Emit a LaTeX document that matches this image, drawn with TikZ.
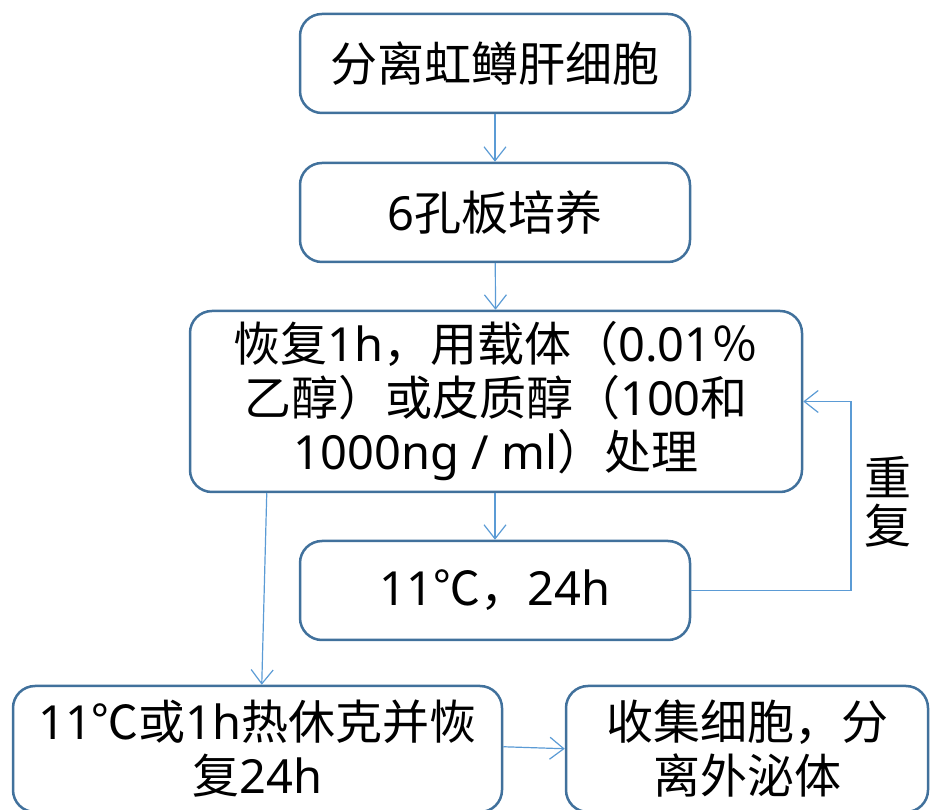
\documentclass[tikz,border=0pt]{standalone}
\usepackage{fontspec}
\setmainfont{Noto Sans}
\newfontfamily\cjk{Noto Sans CJK SC}
\usetikzlibrary{arrows.meta,calc}
\newcommand\zh[1]{{\cjk #1}}
\definecolor{boxc}{HTML}{41719C}
\definecolor{arrc}{HTML}{5B9BD5}
\begin{document}
\begin{tikzpicture}[x=1pt,y=1pt,
  box/.style={draw=boxc, line width=2.5pt, rounded corners=22pt, fill=white,
    align=center, font=\fontsize{47}{54}\selectfont, inner sep=0pt},
  conn/.style={draw=arrc, line width=1.2pt, -{Straight Barb[length=14pt,width=22pt]}},
  lbl/.style={align=center, font=\fontsize{47}{48}\selectfont, inner sep=0pt}]
\useasboundingbox (0,0) rectangle (933,810);
\node[box, minimum width=390, minimum height=99] (b1) at (495,746.5) {\zh{分离虹鳟肝细胞}};
\node[box, minimum width=390, minimum height=99] (b2) at (495,597.5) {6\zh{孔板培养}};
\node[box, minimum width=612, minimum height=181] (b3) at (496,408.5)
  {\zh{恢复}1h\zh{，用载体（}0.01\zh{％}\\
   \zh{乙醇）或皮质醇（}100\zh{和}\\
   1000ng / ml\zh{）处理}};
\node[box, minimum width=390, minimum height=99] (b4) at (495,219.5) {11\zh{℃，}24h};
\node[box, minimum width=489, minimum height=126] (b5) at (257.5,61)
  {11\zh{℃或}1h\zh{热休克并恢}\\ \zh{复}24h};
\node[box, minimum width=362, minimum height=126] (b6) at (747,61)
  {\zh{收集细胞，分}\\ \zh{离外泌体}};
\node[lbl] (rep) at (888,308) {\zh{重}\\ \zh{复}};
\draw[conn] (b1) -- (b2);
\draw[conn] (b2) -- (b3);
\draw[conn] (b3.south -| b4) -- (b4);
\coordinate (fb) at (851,219.5);
\draw[conn] (b4.east) -- (fb) |- (b3.east);
\draw[conn] ($(b3.south west)+(78,0)$) -- ($(b5.north west)+(250,0)$);
\draw[conn] ($(b5.north east)+(0,-62)$) -- ($(b6.north west)+(0,-64)$);
\end{tikzpicture}
\end{document}
